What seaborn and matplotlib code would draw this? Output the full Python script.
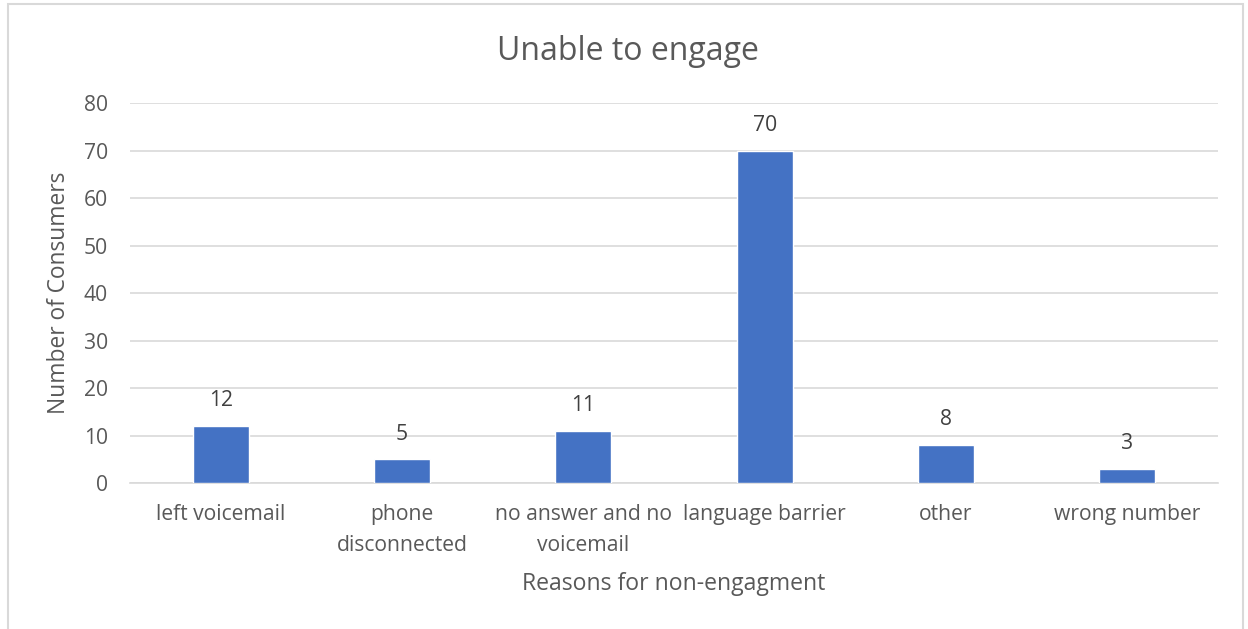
import matplotlib
matplotlib.use("Agg")
import matplotlib.pyplot as plt
from matplotlib.patches import Rectangle
import seaborn as sns
import pandas as pd

categories = ["left voicemail", "phone\ndisconnected", "no answer and no\nvoicemail",
              "language barrier", "other", "wrong number"]
counts = [12, 5, 11, 70, 8, 3]
y_ticks = [0, 10, 20, 30, 40, 50, 60, 70, 80]

sns.set_theme(style="white")
plt.rcParams["font.family"] = ["Open Sans", "DejaVu Sans"]

text_color = "#595959"
grid_color = "#D9D9D9"
bar_color = "#4472C4"

df = pd.DataFrame({"reason": categories, "count": counts})

fig = plt.figure(figsize=(12.48, 6.29), dpi=100)
ax = fig.add_axes([0.1042, 0.2321, 0.8718, 0.6041])

sns.barplot(data=df, x="reason", y="count", color=bar_color, width=0.31,
            saturation=1, ax=ax, zorder=3)

ax.set_ylim(0, 80)
ax.set_yticks(y_ticks)
ax.set_xlim(-0.5, len(categories) - 0.5)
ax.yaxis.grid(True, color=grid_color, linewidth=1.2, zorder=0)
ax.set_axisbelow(True)
for side in ["top", "right", "left"]:
    ax.spines[side].set_visible(False)
ax.spines["bottom"].set_color(grid_color)
ax.spines["bottom"].set_linewidth(1.2)

ax.tick_params(axis="both", length=0, labelsize=15.2, colors=text_color)
ax.tick_params(axis="y", pad=16)
ax.tick_params(axis="x", pad=15)
for lbl in ax.get_xticklabels():
    lbl.set_linespacing(1.62)

for container in ax.containers:
    ax.bar_label(container, labels=[str(v) for v in counts], padding=10.5,
                 fontsize=15.2, color="#404040")

ax.set_xlabel("Reasons for non-engagment", fontsize=16.6, color=text_color, labelpad=12)
ax.set_ylabel("Number of Consumers", fontsize=16.4, color=text_color, labelpad=9)
fig.text(0.5035, 1 - 60 / 629, "Unable to engage", ha="center", va="baseline",
         fontsize=23, color=text_color)

fig.patches.append(Rectangle((8 / 1248, -0.05), (1243 - 8) / 1248, 1.05 - 4 / 629,
                             transform=fig.transFigure, fill=False,
                             edgecolor="#D9D9D9", linewidth=1.5))

fig.savefig("out.png", dpi=100, facecolor="white")
